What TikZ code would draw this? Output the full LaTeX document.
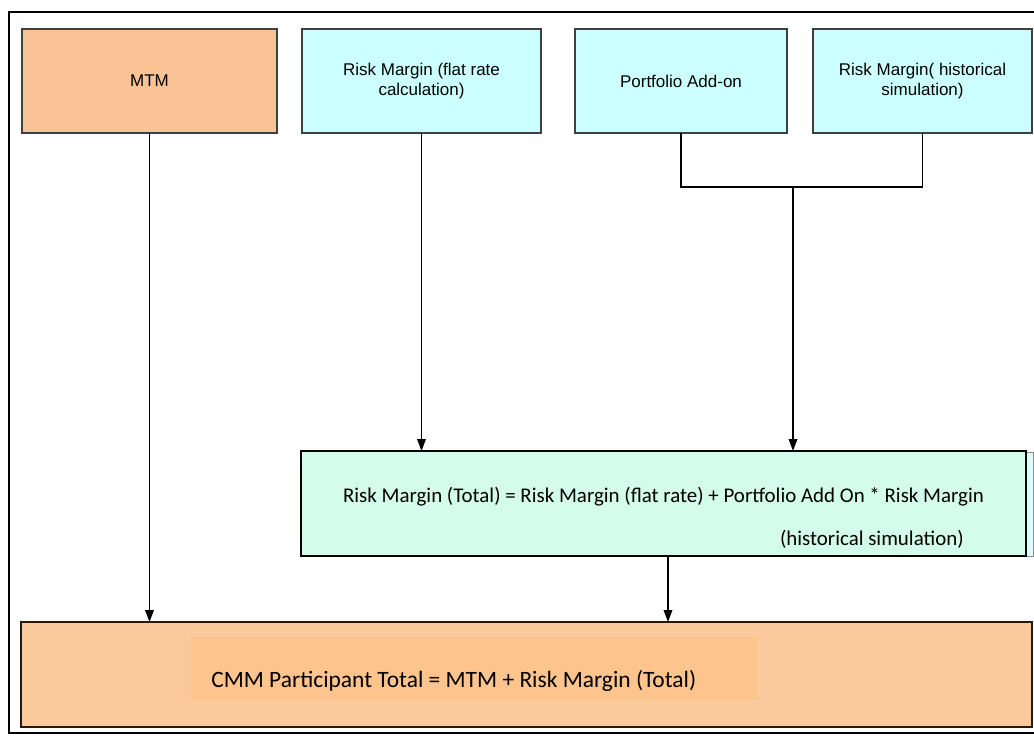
\documentclass[tikz,border=0pt]{standalone}
\usepackage{fontspec}
\setmainfont{Liberation Sans}
\newfontfamily\calibri{Carlito}
\usetikzlibrary{positioning,arrows.meta}

\definecolor{mtmpeach}{HTML}{FAC395}
\definecolor{rmcyan}{HTML}{CCFFFF}
\definecolor{rmmint}{HTML}{D3FCEA}
\definecolor{cmmpeach}{HTML}{FAC99C}
\definecolor{cmmglow}{HTML}{FDC48E}

\tikzset{
  inbox/.style={draw=black!75, line width=1.1pt, inner sep=0pt, outer sep=0pt,
    minimum height=78pt, align=center, font=\fontsize{12.75}{15}\selectfont},
  outbox/.style={line width=1.1pt, inner sep=0pt, outer sep=0pt,
    minimum height=78.75pt, anchor=north west},
  flow/.style={line width=1pt, -{Triangle[width=6.5pt,length=9pt]}},
  link/.style={line width=1pt},
}

\begin{document}
\begin{tikzpicture}[x=0.75pt, y=-0.75pt]
  \useasboundingbox (0,0) rectangle (1034,737);
  \clip (0,0) rectangle (1034,737);
  \draw [line width=0.8pt] (9,12) rectangle (1045,733);

  % inputs
  \node [inbox, fill=mtmpeach, minimum width=191.25pt, anchor=north west] (mtm) at (22,29) {MTM};
  \node [inbox, fill=rmcyan, minimum width=179.25pt, right=18.75pt of mtm] (rmflat) {Risk Margin (flat rate\\calculation)};
  \node [inbox, fill=rmcyan, minimum width=159pt, right=25.5pt of rmflat] (addon) {Portfolio Add-on};
  \node [inbox, fill=rmcyan, minimum width=164.25pt, right=19.5pt of addon] (rmhist) {Risk Margin( historical\\simulation)};

  % risk margin total
  \draw [fill=rmcyan!70, draw=black!45, line width=0.6pt] (1026,452) rectangle (1033,556);
  \node [outbox, draw=black, fill=rmmint, minimum width=543.75pt] (rmtotal) at (301,451) {};
  \node [font=\calibri\fontsize{15.7}{18}\selectfont, inner sep=0pt] (rmline1) at (663.5,497)
    {Risk Margin (Total) = Risk Margin (flat rate) + Portfolio Add On * Risk Margin};
  \node [font=\calibri\fontsize{15.7}{18}\selectfont, inner sep=0pt, anchor=east] (rmline2) at (964,539)
    {(historical simulation)};

  % participant total
  \node [outbox, draw=black!80!brown, fill=cmmpeach, minimum width=758.25pt] (cmm) at (21,622) {};
  \node [fill=cmmglow, inner sep=0pt, minimum width=424.5pt, minimum height=47.25pt, anchor=north west] (cmmhl) at (191,637) {};
  \node [font=\calibri\fontsize{17.6}{20}\selectfont, inner sep=0pt, anchor=west] (cmmtext) at (211,681)
    {CMM Participant Total = MTM + Risk Margin (Total)};

  % connectors
  \coordinate (join) at (793,187);
  \coordinate (drop) at (668,556);
  \draw [flow] (mtm.south) -- (mtm.south |- cmm.north);
  \draw [flow] (rmflat.south) -- (rmflat.south |- rmtotal.north);
  \draw [link] (addon.south) |- (join);
  \draw [link] (rmhist.south) |- (join);
  \draw [flow] (join) -- (join |- rmtotal.north);
  \draw [flow] (drop) -- (drop |- cmm.north);
\end{tikzpicture}
\end{document}
